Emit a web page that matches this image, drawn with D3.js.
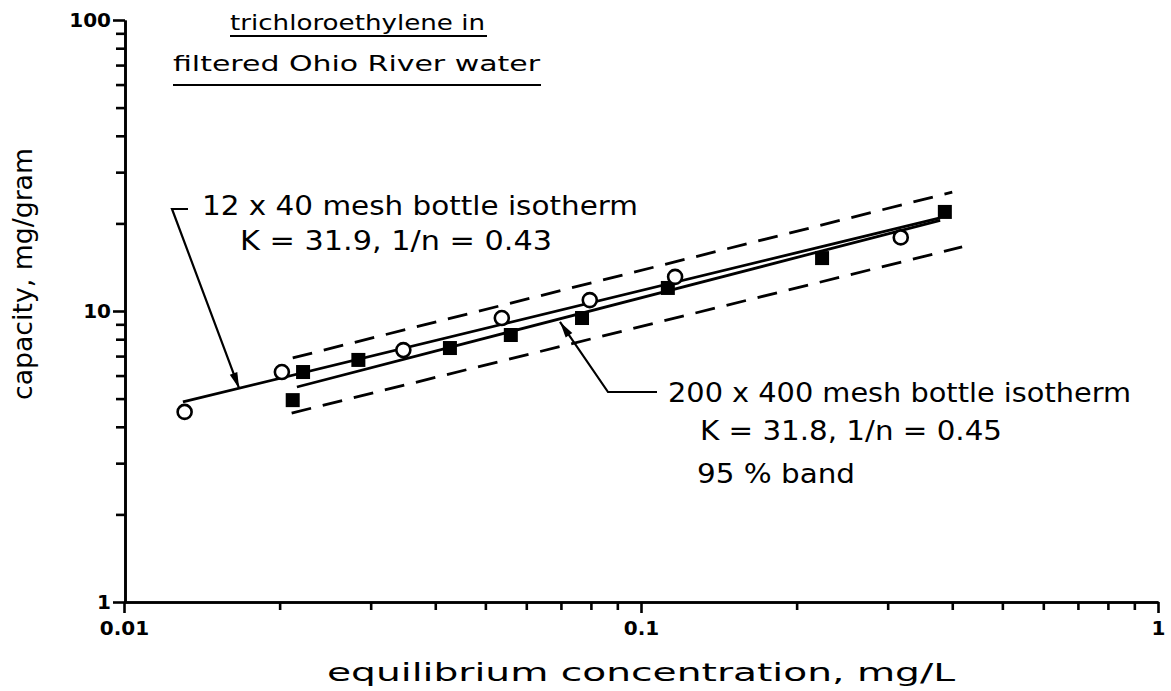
<!DOCTYPE html>
<html>
<head>
<meta charset="utf-8">
<script src="https://cdn.jsdelivr.net/npm/d3@7"></script>
<style>
body { margin: 0; background: #fff; }
svg { display: block; font-family: "DejaVu Sans", sans-serif; }
.axis path, .axis line { stroke: #000; stroke-width: 2.6; }
.axis text { font-size: 20px; font-weight: bold; fill: #000; font-family: "DejaVu Sans", sans-serif; }
.note { font-size: 25px; fill: #000; }
</style>
</head>
<body>
<script>
// 12 x 40 mesh bottle isotherm (open circles)
const coarseC = [0.0131, 0.0202, 0.0347, 0.0538, 0.0796, 0.1164, 0.318];
const coarseQ = [4.50, 6.17, 7.34, 9.46, 10.9, 13.1, 17.9];
// 200 x 400 mesh bottle isotherm (filled squares)
const fineC = [0.0212, 0.0222, 0.0284, 0.0427, 0.0560, 0.0769, 0.1127, 0.224, 0.387];
const fineQ = [4.94, 6.17, 6.79, 7.46, 8.27, 9.46, 12.0, 15.2, 21.9];
// isotherm lines, end points as read
const coarseLineC = [0.0130, 0.379];
const coarseLineQ = [4.87, 20.9];
const fineLineC = [0.0216, 0.379];
const fineLineQ = [5.48, 20.5];
// 95 % band
const bandUpperC = [0.0212, 0.400];
const bandUpperQ = [6.90, 25.6];
const bandLowerC = [0.0211, 0.418];
const bandLowerQ = [4.46, 16.6];
// where the two leader arrows point
const arrowC = [0.0167, 0.0697];
const arrowQ = [5.42, 9.17];

const xMajor = [0.01, 0.1, 1];
const xLabels = ["0.01", "0.1", "1"];
const xMinor = [0.02, 0.03, 0.04, 0.05, 0.06, 0.07, 0.08, 0.09, 0.2, 0.3, 0.4, 0.5, 0.6, 0.7, 0.8, 0.9];
const yMajor = [1, 10, 100];
const yLabels = ["1", "10", "100"];
const yMinor = [2, 3, 4, 5, 6, 7, 8, 9, 20, 30, 40, 50, 60, 70, 80, 90];

const width = 1171, height = 691;
const svg = d3.select("body").append("svg")
	.attr("width", width)
	.attr("height", height);

const x = d3.scaleLog().domain([0.01, 1]).range([124, 1158]);
const y = d3.scaleLog().domain([1, 100]).range([602, 20]);

// axes: minor ticks first, then majors with labels
svg.append("g").attr("class", "axis")
	.attr("transform", "translate(0,602)")
	.call(d3.axisBottom(x).tickValues(xMinor).tickSize(8).tickSizeOuter(0).tickFormat(""));
svg.append("g").attr("class", "axis")
	.attr("transform", "translate(0,602)")
	.call(d3.axisBottom(x).tickValues(xMajor).tickSize(11).tickSizeOuter(0).tickPadding(8)
		.tickFormat((d, i) => xLabels[i]));

svg.append("g").attr("class", "axis")
	.attr("transform", "translate(125,0)")
	.call(d3.axisLeft(y).tickValues(yMinor).tickSize(9).tickSizeOuter(0).tickFormat(""));
svg.append("g").attr("class", "axis")
	.attr("transform", "translate(125,0)")
	.call(d3.axisLeft(y).tickValues(yMajor).tickSize(12).tickSizeOuter(0).tickPadding(2)
		.tickFormat((d, i) => yLabels[i]));

const line = d3.line().x(d => x(d[0])).y(d => y(d[1]));
const pairs = (c, q) => c.map((v, i) => [v, q[i]]);

// dashed band
[[bandUpperC, bandUpperQ], [bandLowerC, bandLowerQ]].forEach(function(b) {
	svg.append("path")
		.attr("d", line(pairs(b[0], b[1])))
		.attr("fill", "none")
		.attr("stroke", "#000")
		.attr("stroke-width", 2.8)
		.attr("stroke-dasharray", "20,12");
});

// isotherm lines
[[coarseLineC, coarseLineQ], [fineLineC, fineLineQ]].forEach(function(l) {
	svg.append("path")
		.attr("d", line(pairs(l[0], l[1])))
		.attr("fill", "none")
		.attr("stroke", "#000")
		.attr("stroke-width", 2.8);
});

svg.selectAll(".sq")
	.data(pairs(fineC, fineQ))
	.enter().append("rect")
	.attr("class", "sq")
	.attr("x", d => x(d[0]) - 7)
	.attr("y", d => y(d[1]) - 7)
	.attr("width", 14)
	.attr("height", 14)
	.attr("fill", "#000");

svg.selectAll(".ci")
	.data(pairs(coarseC, coarseQ))
	.enter().append("circle")
	.attr("class", "ci")
	.attr("cx", d => x(d[0]))
	.attr("cy", d => y(d[1]))
	.attr("r", 7)
	.attr("fill", "#fff")
	.attr("stroke", "#000")
	.attr("stroke-width", 2.6);

// leader lines with arrow heads
function leader(pts, tip) {
	const all = pts.concat([tip]);
	svg.append("polyline")
		.attr("points", all.map(p => p.join(",")).join(" "))
		.attr("fill", "none")
		.attr("stroke", "#000")
		.attr("stroke-width", 2.2);
	const p = pts[pts.length - 1];
	const a = Math.atan2(tip[1] - p[1], tip[0] - p[0]);
	const len = 16, w = 4;
	const bx = tip[0] - len * Math.cos(a), by = tip[1] - len * Math.sin(a);
	svg.append("polygon")
		.attr("points", [
			tip,
			[bx + w * Math.sin(a), by - w * Math.cos(a)],
			[bx - w * Math.sin(a), by + w * Math.cos(a)]
		].map(q => q.join(",")).join(" "))
		.attr("fill", "#000");
}
leader([[188, 209], [172, 209]], [x(arrowC[0]), y(arrowQ[0])]);
leader([[657, 392], [608, 392]], [x(arrowC[1]), y(arrowQ[1])]);

// text
function note(t, px, py, len, size) {
	return svg.append("text")
		.attr("class", "note")
		.attr("x", px).attr("y", py)
		.attr("textLength", len)
		.attr("lengthAdjust", "spacingAndGlyphs")
		.style("font-size", size + "px")
		.text(t);
}
note("trichloroethylene in", 230, 30, 255, 21);
note("filtered Ohio River water", 173, 71, 367, 21);
svg.append("line").attr("x1", 230).attr("x2", 487).attr("y1", 36).attr("y2", 36)
	.attr("stroke", "#000").attr("stroke-width", 2);
svg.append("line").attr("x1", 173).attr("x2", 541).attr("y1", 85).attr("y2", 85)
	.attr("stroke", "#000").attr("stroke-width", 2);

note("12 x 40 mesh bottle isotherm", 202, 215, 436, 26);
note("K = 31.9, 1/n = 0.43", 240, 250, 312, 26);
note("200 x 400 mesh bottle isotherm", 668, 402, 463, 26);
note("K = 31.8, 1/n = 0.45", 700, 440, 302, 26);
note("95 % band", 697, 483, 158, 26);

note("equilibrium concentration, mg/L", 327, 681, 628, 25);

svg.append("text")
	.attr("class", "note")
	.attr("transform", "translate(32,274) rotate(-90)")
	.attr("text-anchor", "middle")
	.attr("textLength", 252)
	.attr("lengthAdjust", "spacingAndGlyphs")
	.style("font-size", "27px")
	.text("capacity, mg/gram");
</script>
</body>
</html>
